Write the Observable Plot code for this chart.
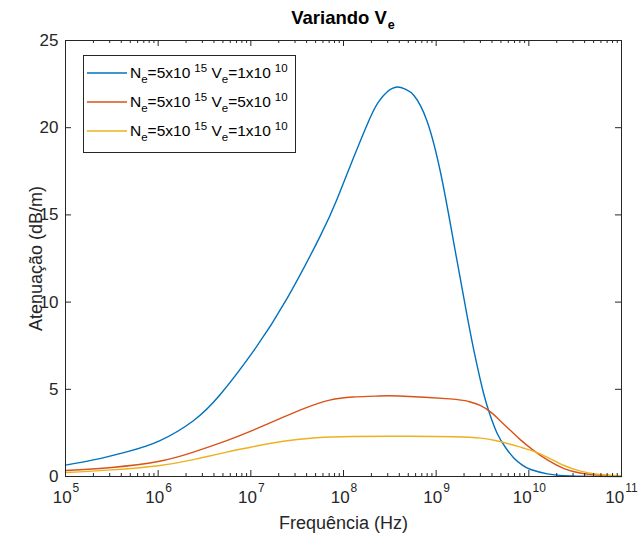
<!DOCTYPE html>
<html><head><meta charset="utf-8">
<script src="https://cdn.jsdelivr.net/npm/d3@7"></script>
<script src="https://cdn.jsdelivr.net/npm/@observablehq/plot@0.6"></script>
<style>body{margin:0;background:#fff;} #chart svg{display:block;}</style>
</head><body><div id="chart"></div>
<script>
// log10 of frequency (Hz) and attenuation (dB/m)
const blueExp = [5.0, 5.3, 5.67, 6.02, 6.38, 6.67, 7.03, 7.39, 7.75, 7.93, 8.11, 8.29, 8.38, 8.47, 8.58, 8.67, 8.76, 8.9, 9.05, 9.19, 9.33, 9.42, 9.51, 9.58, 9.66, 9.75, 9.84, 9.93, 10.02, 10.2, 10.38, 10.7, 11.0];
const blueVal = [0.65, 0.95, 1.43, 2.06, 3.2, 4.7, 7.2, 10.2, 13.8, 15.9, 18.3, 20.6, 21.5, 22.05, 22.33, 22.2, 21.85, 20.4, 17.36, 13.4, 9.33, 6.9, 4.8, 3.55, 2.45, 1.65, 1.05, 0.65, 0.4, 0.15, 0.05, 0.01, 0.0];
const orangeExp = [5.0, 5.5, 6.0, 6.38, 6.74, 7.0, 7.35, 7.6, 7.85, 8.1, 8.35, 8.6, 9.15, 9.35, 9.48, 9.6, 9.69, 9.8, 9.91, 10.05, 10.2, 10.38, 10.55, 10.74, 11.0];
const orangeVal = [0.34, 0.52, 0.86, 1.4, 2.06, 2.6, 3.4, 3.95, 4.38, 4.56, 4.61, 4.62, 4.45, 4.3, 4.07, 3.65, 3.2, 2.65, 2.1, 1.5, 0.95, 0.45, 0.2, 0.08, 0.02];
const yellowExp = [5.0, 5.5, 6.0, 6.38, 6.74, 7.0, 7.35, 7.71, 8.1, 8.7, 9.2, 9.48, 9.65, 9.8, 9.93, 10.05, 10.2, 10.38, 10.55, 10.74, 11.0];
const yellowVal = [0.23, 0.38, 0.62, 0.97, 1.4, 1.68, 2.02, 2.22, 2.29, 2.31, 2.28, 2.2, 2.05, 1.85, 1.65, 1.45, 1.1, 0.63, 0.32, 0.13, 0.03];

const seriesKeys = ["s1", "s2", "s3"];
const seriesColors = ["#0072BD", "#D95319", "#EDB120"];
const legendNe = ["5x10", "5x10", "5x10"];
const legendNeExp = ["15", "15", "15"];
const legendVe = ["1x10", "5x10", "1x10"];
const legendVeExp = ["10", "10", "10"];

const yTicks = [0, 5, 10, 15, 20, 25];
const xDecades = [5, 6, 7, 8, 9, 10, 11];
const minorMultipliers = [2, 3, 4, 5, 6, 7, 8, 9];

const seriesData = [[blueExp, blueVal], [orangeExp, orangeVal], [yellowExp, yellowVal]];
const rows = seriesData.flatMap(([ex, vals], i) => ex.map((e, j) => ({series: seriesKeys[i], f: Math.pow(10, e), v: vals[j]})));
const majorTicks = xDecades.map(d => Math.pow(10, d));
const minorTicks = xDecades.slice(0, -1).flatMap(d => minorMultipliers.map(m => m * Math.pow(10, d)));
const decadeLabels = xDecades.map(d => ({f: Math.pow(10, d), exp: String(d)}));
const oneDigit = decadeLabels.filter(d => d.exp.length === 1);
const twoDigit = decadeLabels.filter(d => d.exp.length === 2);

const W = 638, H = 538, ML = 65, MR = 17, MT = 40, MB = 62;
const FW = W - ML - MR, FH = H - MT - MB;
const FS = 17, EFS = 12;
const baseW = 2 * 0.556 * FS;
const dx1 = (baseW - 1 * 0.556 * EFS) / 2;
const dx2 = (baseW - 2 * 0.556 * EFS) / 2;

const ink = "#262626";
const font = "'Liberation Sans', Arial, sans-serif";
const chart = Plot.plot({
  width: W, height: H,
  marginLeft: ML, marginRight: MR, marginTop: MT, marginBottom: MB,
  style: {fontFamily: font, color: ink, background: "white", overflow: "visible"},
  x: {type: "log", domain: [1e5, 1e11], axis: null},
  y: {domain: [0, 25], axis: null},
  color: {domain: seriesKeys, range: seriesColors},
  marks: [
    Plot.line(rows, {x: "f", y: "v", stroke: "series", curve: "natural", strokeWidth: 1.4}),
    Plot.frame({stroke: ink, strokeWidth: 1}),
    // inward ticks (bottom / top / left / right)
    Plot.ruleX(majorTicks, {insetTop: FH - 6, stroke: ink}),
    Plot.ruleX(minorTicks, {insetTop: FH - 3, stroke: ink}),
    Plot.ruleX(majorTicks, {insetBottom: FH - 6, stroke: ink}),
    Plot.ruleX(minorTicks, {insetBottom: FH - 3, stroke: ink}),
    Plot.ruleY(yTicks, {insetRight: FW - 6, stroke: ink}),
    Plot.ruleY(yTicks, {insetLeft: FW - 6, stroke: ink}),
    // y tick labels
    Plot.text(yTicks, {x: 1e5, y: d => d, text: d => String(d), textAnchor: "end", dx: -7, fontSize: FS, fill: ink}),
    // x tick labels 10^n
    Plot.text(oneDigit, {x: "f", y: () => 0, text: () => "10", textAnchor: "end", dx: dx1, dy: 21, fontSize: FS, fill: ink}),
    Plot.text(oneDigit, {x: "f", y: () => 0, text: "exp", textAnchor: "start", dx: dx1 + 1, dy: 12, fontSize: EFS, fill: ink}),
    Plot.text(twoDigit, {x: "f", y: () => 0, text: () => "10", textAnchor: "end", dx: dx2, dy: 21, fontSize: FS, fill: ink}),
    Plot.text(twoDigit, {x: "f", y: () => 0, text: "exp", textAnchor: "start", dx: dx2 + 1, dy: 12, fontSize: EFS, fill: ink}),
    Plot.text(["Frequência (Hz)"], {frameAnchor: "bottom", textAnchor: "middle", dy: 52, fontSize: 18, fill: ink}),
    Plot.text(["Atenuação (dB/m)"], {frameAnchor: "left", textAnchor: "middle", lineAnchor: "middle", rotate: -90, dx: -29, fontSize: 18, fill: ink})
  ]
});
document.getElementById("chart").appendChild(chart);

const svg = d3.select(chart);
// title
const title = svg.append("text").attr("x", ML + FW / 2).attr("y", 24).attr("text-anchor", "middle")
  .attr("font-family", font).attr("font-weight", "bold").attr("font-size", 18.5).attr("fill", "#000");
title.append("tspan").text("Variando V");
title.append("tspan").attr("dy", 5).attr("dx", 1).attr("font-size", 12.5).text("e");

// legend
const lg = svg.append("g").attr("font-family", font).attr("fill", "#000").attr("text-anchor", "start");
lg.append("rect").attr("x", 83.5).attr("y", 55.5).attr("width", 212).attr("height", 97).attr("fill", "white").attr("stroke", ink).attr("stroke-width", 1);
seriesKeys.forEach((k, i) => {
  const yy = 73 + i * 29;
  lg.append("line").attr("x1", 87).attr("x2", 127).attr("y1", yy).attr("y2", yy).attr("stroke", seriesColors[i]).attr("stroke-width", 1.4);
  const t = lg.append("text").attr("x", 130).attr("y", yy + 5).attr("font-size", 15.5).attr("text-anchor", "start");
  t.append("tspan").text("N");
  t.append("tspan").attr("dy", 5).attr("font-size", 11.5).text("e");
  t.append("tspan").attr("dy", -5).text("=" + legendNe[i]);
  t.append("tspan").attr("dy", -6).attr("dx", 4).attr("font-size", 11.5).text(legendNeExp[i]);
  t.append("tspan").attr("dy", 6).text(" V");
  t.append("tspan").attr("dy", 5).attr("font-size", 11.5).text("e");
  t.append("tspan").attr("dy", -5).text("=" + legendVe[i]);
  t.append("tspan").attr("dy", -6).attr("dx", 4).attr("font-size", 11.5).text(legendVeExp[i]);
});
</script>
</body></html>
